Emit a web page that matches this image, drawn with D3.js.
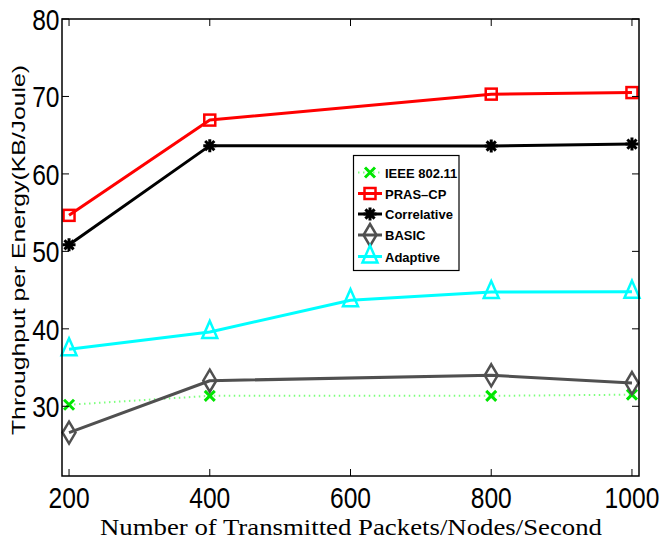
<!DOCTYPE html>
<html><head><meta charset="utf-8">
<script src="https://cdn.jsdelivr.net/npm/d3@7"></script>
<style>body{margin:0;background:#fff}svg{display:block}</style>
</head><body>
<svg id="c" width="660" height="542"></svg>
<script>
const xTicks = [200, 400, 600, 800, 1000];
const yTicks = [30, 40, 50, 60, 70, 80];
const ieeeX = [200, 400, 800, 1000];
const ieeeY = [30.2, 31.35, 31.35, 31.5];
const prasX = [200, 400, 800, 1000];
const prasY = [54.65, 66.95, 70.3, 70.5];
const corrX = [200, 400, 800, 1000];
const corrY = [50.85, 63.65, 63.6, 63.85];
const basicX = [200, 400, 800, 1000];
const basicY = [26.6, 33.3, 34.0, 33.0];
const adaptX = [200, 400, 600, 800, 1000];
const adaptY = [37.35, 39.6, 43.7, 44.75, 44.8];
const names = ["IEEE 802.11", "PRAS\u2013CP", "Correlative", "BASIC", "Adaptive"];

const svg = d3.select("#c");
const L = 62, R = 639, T = 19, B = 476;
const x = d3.scaleLinear().domain([190, 1010]).range([L, R]);
const y = d3.scaleLinear().domain([21, 80]).range([B, T]);

const series = [
  {name: names[0], xs: ieeeX, ys: ieeeY, color: "#7dff7d", mcolor: "#00e600", width: 2, dash: "1.5,3.5", marker: "x"},
  {name: names[1], xs: prasX, ys: prasY, color: "#ff0000", mcolor: "#ff0000", width: 3, dash: null, marker: "square"},
  {name: names[2], xs: corrX, ys: corrY, color: "#000000", mcolor: "#000000", width: 3, dash: null, marker: "star"},
  {name: names[3], xs: basicX, ys: basicY, color: "#505050", mcolor: "#505050", width: 3, dash: null, marker: "diamond"},
  {name: names[4], xs: adaptX, ys: adaptY, color: "#00ffff", mcolor: "#00ffff", width: 3, dash: null, marker: "triangle"}
];

function drawMarker(g, type, cx, cy, color) {
  if (type === "x") {
    g.append("path").attr("d", `M${cx-5},${cy-5}L${cx+5},${cy+5}M${cx-5},${cy+5}L${cx+5},${cy-5}`)
      .attr("stroke", color).attr("stroke-width", 3).attr("fill", "none");
  } else if (type === "square") {
    g.append("rect").attr("x", cx-5.5).attr("y", cy-5.5).attr("width", 11).attr("height", 11)
      .attr("stroke", color).attr("stroke-width", 2.5).attr("fill", "none");
  } else if (type === "star") {
    let d = "";
    for (let i = 0; i < 4; i++) {
      const a = i * Math.PI / 4;
      const dx = 6.5 * Math.sin(a), dy = 6.5 * Math.cos(a);
      d += `M${cx-dx},${cy-dy}L${cx+dx},${cy+dy}`;
    }
    g.append("path").attr("d", d).attr("stroke", color).attr("stroke-width", 3).attr("fill", "none");
  } else if (type === "diamond") {
    g.append("path").attr("d", `M${cx},${cy-11}L${cx+6.5},${cy}L${cx},${cy+11}L${cx-6.5},${cy}Z`)
      .attr("stroke", color).attr("stroke-width", 2.5).attr("fill", "none");
  } else if (type === "triangle") {
    g.append("path").attr("d", `M${cx},${cy-11}L${cx+7.5},${cy+6}L${cx-7.5},${cy+6}Z`)
      .attr("stroke", color).attr("stroke-width", 2.5).attr("fill", "none");
  }
}

// lines
const line = d3.line().x(d => x(d[0])).y(d => y(d[1]));
series.forEach(s => {
  const pts = s.xs.map((v, i) => [v, s.ys[i]]);
  svg.append("path").attr("d", line(pts)).attr("fill", "none")
    .attr("stroke", s.color).attr("stroke-width", s.width)
    .attr("stroke-dasharray", s.dash).attr("stroke-linejoin", "round");
});
// markers
series.forEach(s => {
  const g = svg.append("g");
  s.xs.forEach((v, i) => drawMarker(g, s.marker, x(v), y(s.ys[i]), s.mcolor));
});

// axes: box
const axG = svg.append("g");
axG.append("rect").attr("x", L).attr("y", T).attr("width", R-L).attr("height", B-T)
  .attr("fill", "none").attr("stroke", "#000").attr("stroke-width", 1.5);
// ticks (inside)
const tl = 7;
xTicks.forEach(t => {
  axG.append("line").attr("x1", x(t)).attr("x2", x(t)).attr("y1", B).attr("y2", B-tl).attr("stroke", "#000").attr("stroke-width", 1);
  axG.append("line").attr("x1", x(t)).attr("x2", x(t)).attr("y1", T).attr("y2", T+tl).attr("stroke", "#000").attr("stroke-width", 1);
});
yTicks.forEach(t => {
  axG.append("line").attr("x1", L).attr("x2", L+tl).attr("y1", y(t)).attr("y2", y(t)).attr("stroke", "#000").attr("stroke-width", 1);
  axG.append("line").attr("x1", R).attr("x2", R-tl).attr("y1", y(t)).attr("y2", y(t)).attr("stroke", "#000").attr("stroke-width", 1);
});
// tick labels
const tickFont = "'Liberation Sans', Arial, sans-serif";
xTicks.forEach(t => {
  svg.append("g").attr("transform", `translate(${x(t)},508) scale(0.82,1)`)
    .append("text").attr("text-anchor", "middle").attr("font-family", tickFont)
    .attr("font-size", 30).attr("fill", "#000").text(t);
});
yTicks.forEach(t => {
  svg.append("g").attr("transform", `translate(59.5,${y(t)+11}) scale(0.82,1)`)
    .append("text").attr("text-anchor", "end").attr("font-family", tickFont)
    .attr("font-size", 30).attr("fill", "#000").text(t);
});

// axis titles
svg.append("text").attr("x", 351).attr("y", 535).attr("text-anchor", "middle")
  .attr("font-family", "'Liberation Serif', 'DejaVu Serif', serif").attr("font-size", 24)
  .attr("textLength", 502).attr("lengthAdjust", "spacingAndGlyphs")
  .text("Number of Transmitted Packets/Nodes/Second");
svg.append("text").attr("transform", "translate(25,250) rotate(-90)").attr("text-anchor", "middle")
  .attr("font-family", "'Liberation Sans', Arial, sans-serif").attr("font-size", 19)
  .attr("textLength", 370).attr("lengthAdjust", "spacingAndGlyphs")
  .text("Throughput per Energy(KB/Joule)");

// legend
const lg = svg.append("g");
lg.append("rect").attr("x", 353.5).attr("y", 155.5).attr("width", 105.5).attr("height", 115)
  .attr("fill", "#fff").attr("stroke", "#000").attr("stroke-width", 1.2);
const ly = [172.5, 193.5, 214, 235, 256.5];
series.forEach((s, i) => {
  lg.append("line").attr("x1", 358).attr("x2", 382).attr("y1", ly[i]).attr("y2", ly[i])
    .attr("stroke", s.color).attr("stroke-width", s.width).attr("stroke-dasharray", s.dash);
  drawMarker(lg, s.marker, 370, ly[i], s.mcolor);
  lg.append("text").attr("x", 385).attr("y", ly[i] + 5).attr("font-family", "'Liberation Sans', Arial, sans-serif")
    .attr("font-weight", "bold").attr("font-size", 13).attr("fill", "#000").text(s.name);
});
</script>
</body></html>
